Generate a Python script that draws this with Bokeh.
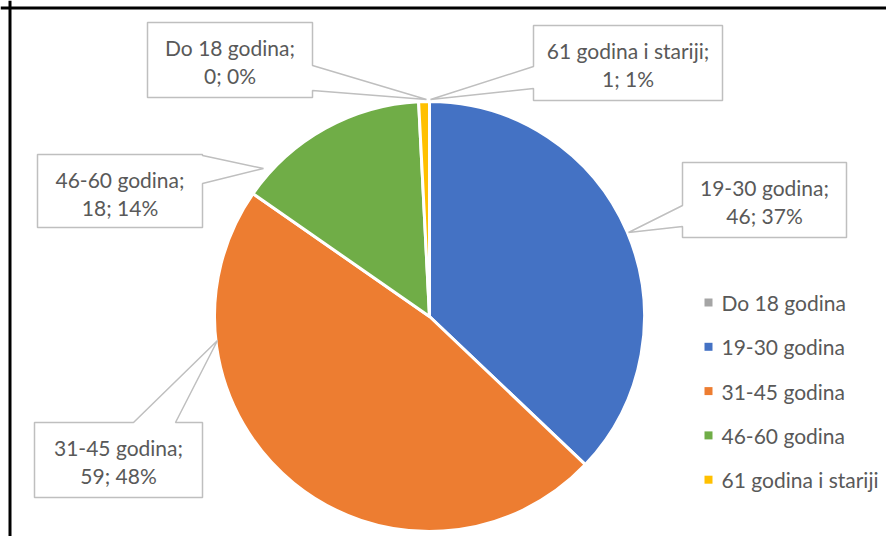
import numpy as np
from bokeh.plotting import figure
from bokeh.models import Range1d, Span, ColumnDataSource
from bokeh.core.properties import value
from bokeh.embed import file_html
from bokeh.resources import INLINE

# ---- data ----
categories = ["Do 18 godina", "19-30 godina", "31-45 godina", "46-60 godina", "61 godina i stariji"]
counts = [0, 46, 59, 18, 1]
percents = [0, 37, 48, 14, 1]
colors = ["#A5A5A5", "#4472C4", "#ED7D31", "#70AD47", "#FFC000"]

FONT = "Lato"
TXT = "#595959"

W, H = 886, 536
p = figure(width=W, height=H, x_range=Range1d(0, W), y_range=Range1d(0, H),
           output_backend="svg", toolbar_location=None, min_border=0)
p.axis.visible = False
p.grid.visible = False
p.outline_line_color = None
p.background_fill_color = "white"
p.border_fill_color = "white"


def Y(py):
    return H - py


# ---- pie ----
cx, cy, r = 429, Y(316), 215
total = sum(counts)
cum = np.cumsum([0] + counts)
start = np.pi / 2 - 2 * np.pi * cum[1:] / total
end = np.pi / 2 - 2 * np.pi * cum[:-1] / total
mask = np.array(counts) > 0
src = ColumnDataSource(dict(start=start[mask], end=end[mask], color=list(np.array(colors)[mask])))
p.wedge(x=cx, y=cy, radius=r, start_angle="start", end_angle="end", fill_color="color",
        line_color="white", line_width=3, source=src)

# ---- callout labels ----
# box (x0, y0, x1, y1) page px, pointer side, base a..b, tip
layout = [
    (147, 22, 312, 97, "right", 65, 90, (426, 99)),
    (682, 162, 846, 237, "left", 205, 226, (628, 232)),
    (34, 422, 202, 497, "top", 133, 175, (217, 340)),
    (37, 154, 202, 227, "right", 155, 183, (263, 168)),
    (533, 25, 722, 100, "left", 66, 88, (430, 99)),
]
xs, ys = [], []
tx, ty, tt = [], [], []
for i, (x0, y0, x1, y1, side, a, b, tip) in enumerate(layout):
    if side == "right":
        pts = [(x0, y0), (x1, y0), (x1, a), tip, (x1, b), (x1, y1), (x0, y1)]
    elif side == "left":
        pts = [(x0, y0), (x1, y0), (x1, y1), (x0, y1), (x0, b), tip, (x0, a)]
    else:
        pts = [(x0, y0), (a, y0), tip, (b, y0), (x1, y0), (x1, y1), (x0, y1)]
    xs.append([q[0] for q in pts])
    ys.append([Y(q[1]) for q in pts])
    mx = (x0 + x1) / 2
    tx += [mx, mx]
    ty += [Y(y0 + 25), Y(y0 + 53)]
    tt += [f"{categories[i]};", f"{counts[i]}; {percents[i]}%"]

p.patches(xs=xs, ys=ys, fill_color="white", line_color="#BFBFBF", line_width=1.5)
p.text(x=tx, y=ty, text=tt, text_font=value(FONT), text_font_size="21px",
       text_color=TXT, text_align="center", text_baseline="middle")

# ---- legend ----
ly = [Y(302 + 44.3 * i) for i in range(len(categories))]
p.scatter(x=[708] * len(categories), y=ly, marker="square", size=8, color=colors, line_color=None)
p.text(x=[721] * len(categories), y=ly, text=categories, text_font=value(FONT),
       text_font_size="21px", text_color=TXT, text_align="left", text_baseline="middle")

# ---- outer border (top and left) ----
p.add_layout(Span(location=Y(7.5), dimension="width", line_color="black", line_width=3))
p.add_layout(Span(location=9.5, dimension="height", line_color="black", line_width=3))

open("out.html", "w").write(file_html(p, INLINE))
